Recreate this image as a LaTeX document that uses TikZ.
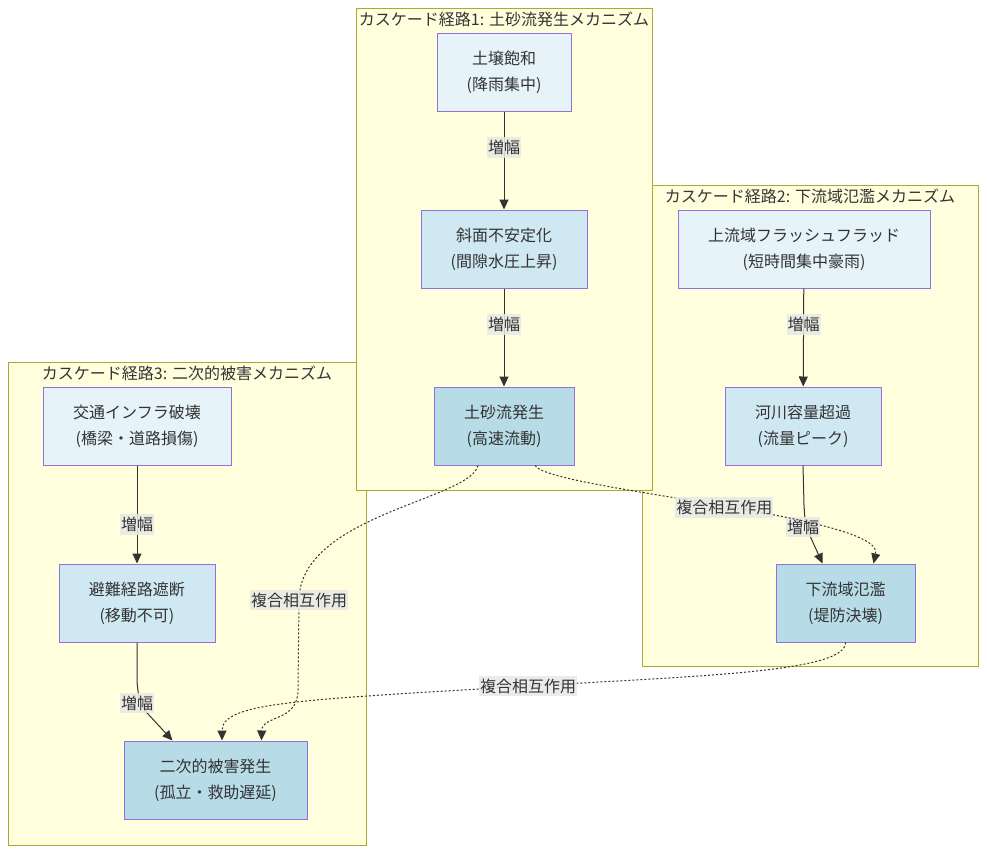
\documentclass[tikz,border=0pt]{standalone}
\usepackage{fontspec}
\setmainfont{Noto Sans CJK JP}
\usepackage{xcolor}
\usepackage{tikz}
\usetikzlibrary{arrows.meta}
\definecolor{grpfill}{HTML}{FFFFDE}
\definecolor{grpline}{HTML}{AAAA33}
\definecolor{ndline}{HTML}{9370DB}
\definecolor{ndlight}{HTML}{E6F3F8}
\definecolor{ndmid}{HTML}{D0E8F1}
\definecolor{nddark}{HTML}{B7DCE8}
\definecolor{lblbg}{HTML}{E8E8E8}
\definecolor{txt}{HTML}{333333}
\tikzset{
  grp/.style    ={draw=grpline, fill=grpfill, line width=0.5pt},
  grptitle/.style={inner sep=0pt, text=txt},
  nd/.style     ={rectangle, draw=ndline, line width=0.5pt, align=center,
                  text=txt, inner sep=0pt, minimum height=39pt},
  ndlo/.style   ={nd, fill=ndlight},
  ndmi/.style   ={nd, fill=ndmid},
  ndhi/.style   ={nd, fill=nddark},
  lbl/.style    ={fill=lblbg, fill opacity=0.85, text opacity=1,
                  inner xsep=0.5pt, inner ysep=1.5pt, text=txt},
  arr/.style    ={-{Triangle[length=5pt,width=4.5pt]}, line width=0.5pt, draw=txt},
  cpl/.style    ={arr, dash pattern=on 1pt off 1pt},
}

\begin{document}
\begin{tikzpicture}[x=0.5pt, y=-0.5pt, font=\fontsize{8}{13}\selectfont]
  \useasboundingbox (0,0) rectangle (987,852);

  % groups (path 1 drawn last, it lies on top)
  \draw[grp] (642,185) rectangle (978,666);
  \node[grptitle] (t2) at (810,196) {カスケード経路2: 下流域氾濫メカニズム};
  \draw[grp] (8,362) rectangle (366,845);
  \node[grptitle] (t3) at (187,373) {カスケード経路3: 二次的被害メカニズム};
  \draw[grp] (356,8) rectangle (652,490);
  \node[grptitle] (t1) at (504,19) {カスケード経路1: 土砂流発生メカニズム};

  % path 1
  \node[ndlo, minimum width=67pt] (soil)   at (504,72)  {土壌飽和\\(降雨集中)};
  \node[ndmi, minimum width=83pt] (slope)  at (504,249) {斜面不安定化\\(間隙水圧上昇)};
  \node[ndhi, minimum width=70pt] (debris) at (504,426) {土砂流発生\\(高速流動)};

  % path 2
  \node[ndlo, minimum width=126pt] (flash) at (804,249)   {上流域フラッシュフラッド\\(短時間集中豪雨)};
  \node[ndmi, minimum width=78pt]  (river) at (803,426)   {河川容量超過\\(流量ピーク)};
  \node[ndhi, minimum width=69.5pt] (flood) at (845.5,603) {下流域氾濫\\(堤防決壊)};

  % path 3
  \node[ndlo, minimum width=94pt]   (infra)  at (137,426)   {交通インフラ破壊\\(橋梁・道路損傷)};
  \node[ndmi, minimum width=78pt]   (route)  at (137,603)   {避難経路遮断\\(移動不可)};
  \node[ndhi, minimum width=91.5pt] (damage) at (215.5,780) {二次的被害発生\\(孤立・救助遅延)};

  % amplification inside each path
  \draw[arr] (soil) -- node[lbl, pos=0.37] {増幅} (slope);
  \draw[arr] (slope) -- node[lbl, pos=0.37] {増幅} (debris);
  \draw[arr] (flash) -- node[lbl, pos=0.37] {増幅} (river);
  \draw[arr] (river.south) -- (804,505) .. controls (805,525) and (807,530) .. (811,538)
       node[lbl] at (803,527) {増幅} -- ([xshift=-11.5pt]flood.north);
  \draw[arr] (infra) -- node[lbl, pos=0.6] {増幅} (route);
  \draw[arr] (route.south) -- (137,680) .. controls (138,700) and (142,708) .. (149,715)
       node[lbl] at (137,703) {増幅} -- ([xshift=-21.5pt]damage.north);

  % coupled interactions between paths
  \draw[cpl] ([xshift=15.5pt]debris.south) .. controls (550,490) and (885,515) ..
       node[lbl, pos=0.52] {複合相互作用} ([xshift=14pt]flood.north);
  \draw[cpl] ([xshift=-13pt]debris.south) .. controls (470,500) and (300,515) .. (299,600)
       node[lbl] (lblA) {複合相互作用} -- (298,690) .. controls (298,722) and (262,715) ..
       ([xshift=23pt]damage.north);
  \draw[cpl] (flood.south) .. controls (846,672) and (700,676) .. (528,686)
       node[lbl] (lblB) {複合相互作用} .. controls (300,700) and (222,702) ..
       ([xshift=3.25pt]damage.north);
\end{tikzpicture}
\end{document}
